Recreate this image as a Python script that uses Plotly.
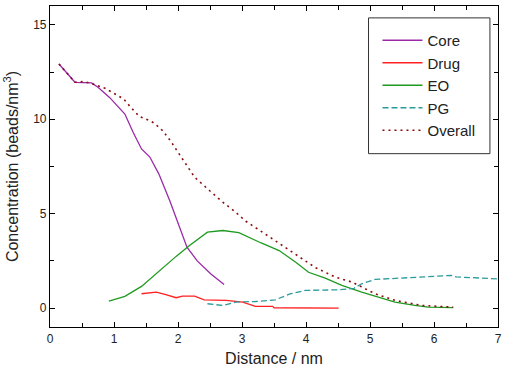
import plotly.graph_objects as go

core_x = [0.14, 0.39, 0.65, 0.75, 0.93, 1.17, 1.30, 1.43, 1.56, 1.70, 1.87, 2.02, 2.14, 2.30, 2.51, 2.72]
core_y = [12.93, 11.96, 11.93, 11.7, 11.16, 10.28, 9.3, 8.43, 8.0, 7.11, 5.7, 4.29, 3.23, 2.5, 1.82, 1.25]

drug_x = [1.43, 1.66, 1.81, 1.97, 2.07, 2.26, 2.41, 2.75, 3.01, 3.21, 3.48, 3.50, 4.51]
drug_y = [0.76, 0.85, 0.72, 0.55, 0.63, 0.63, 0.44, 0.41, 0.32, 0.09, 0.09, 0.02, 0.0]

eo_x = [0.92, 1.17, 1.43, 1.71, 1.97, 2.18, 2.46, 2.70, 2.95, 3.30, 3.58, 3.84, 4.04, 4.30, 4.56, 4.87, 5.10, 5.39, 5.70, 5.91, 6.30]
eo_y = [0.37, 0.62, 1.15, 2.0, 2.74, 3.32, 4.02, 4.11, 4.0, 3.45, 3.05, 2.43, 1.9, 1.59, 1.2, 0.85, 0.6, 0.32, 0.15, 0.05, 0.03]

pg_x = [2.46, 2.70, 2.90, 3.21, 3.52, 3.75, 3.99, 4.51, 4.75, 4.87, 5.08, 5.55, 6.0, 6.27, 6.35, 7.0]
pg_y = [0.23, 0.14, 0.32, 0.35, 0.44, 0.75, 0.94, 0.97, 1.05, 1.29, 1.52, 1.61, 1.68, 1.73, 1.65, 1.55]

overall_x = [0.14, 0.39, 0.52, 0.65, 0.86, 1.01, 1.15, 1.27, 1.40, 1.56, 1.63, 1.76, 1.88, 2.07, 2.26, 2.49, 2.70, 2.90, 3.06, 3.32, 3.58, 3.84, 4.15, 4.46, 4.72, 5.08, 5.39, 5.81, 6.30]
overall_y = [12.93, 11.96, 12.0, 11.9, 11.64, 11.37, 11.08, 10.6, 10.14, 9.93, 9.79, 9.4, 8.87, 7.9, 6.93, 6.23, 5.61, 5.08, 4.6, 4.02, 3.44, 2.84, 2.14, 1.64, 1.38, 0.76, 0.41, 0.14, 0.05]

x_ticks = [0, 1, 2, 3, 4, 5, 6, 7]
y_ticks = [0, 5, 10, 15]

font = "Liberation Sans, Arial, sans-serif"

fig = go.Figure()
fig.add_trace(go.Scatter(x=core_x, y=core_y, name="Core", mode="lines",
                         line=dict(color="#9a2aa8", width=1.3)))
fig.add_trace(go.Scatter(x=drug_x, y=drug_y, name="Drug", mode="lines",
                         line=dict(color="#ff2020", width=1.3)))
fig.add_trace(go.Scatter(x=eo_x, y=eo_y, name="EO", mode="lines",
                         line=dict(color="#1f9a1f", width=1.3)))
fig.add_trace(go.Scatter(x=pg_x, y=pg_y, name="PG", mode="lines",
                         line=dict(color="#2a9a9a", width=1.3, dash="6px,3px")))
fig.add_trace(go.Scatter(x=overall_x, y=overall_y, name="Overall", mode="lines",
                         line=dict(color="#8b0a0a", width=1.6, dash="2px,4px")))

axis_common = dict(showline=True, linecolor="black", linewidth=1.2, mirror="allticks",
                   ticks="inside", ticklen=5, tickcolor="black", showgrid=False,
                   zeroline=False, tickfont=dict(size=12, color="#222", family=font))

fig.update_xaxes(range=[0, 7], tickvals=x_ticks, ticktext=[str(v) for v in x_ticks],
                 minor=dict(tickvals=[0.5, 1.5, 2.5, 3.5, 4.5, 5.5, 6.5], ticks="inside",
                            ticklen=4, tickcolor="black", showgrid=False),
                 title=dict(text="Distance / nm", font=dict(size=16, color="#222", family=font),
                            standoff=8),
                 **axis_common)
fig.update_yaxes(range=[-1, 16], tickvals=y_ticks, ticktext=[str(v) for v in y_ticks],
                 minor=dict(tickvals=[2.5, 7.5, 12.5], ticks="inside",
                            ticklen=4, tickcolor="black", showgrid=False),
                 title=dict(text="Concentration (beads/nm<sup>3</sup>)",
                            font=dict(size=16, color="#222", family=font), standoff=10),
                 **axis_common)

fig.add_shape(type="rect", xref="paper", yref="paper",
              x0=0.711, x1=0.982, y0=0.540, y1=0.963,
              line=dict(color="#333", width=1), fillcolor="white", layer="below")

fig.update_layout(
    width=507, height=372,
    margin=dict(l=50, r=7, t=5, b=45),
    paper_bgcolor="white", plot_bgcolor="rgba(0,0,0,0)",
    font=dict(family=font, color="#222"),
    legend=dict(x=0.731, y=0.944, xanchor="left", yanchor="top",
                borderwidth=0, bgcolor="rgba(0,0,0,0)",
                font=dict(size=15, family=font, color="#222"),
                itemwidth=40, tracegroupgap=0),
    showlegend=True,
)

fig.write_html("out.html", config={"displayModeBar": False},
               post_script="document.body.style.margin='0';")
